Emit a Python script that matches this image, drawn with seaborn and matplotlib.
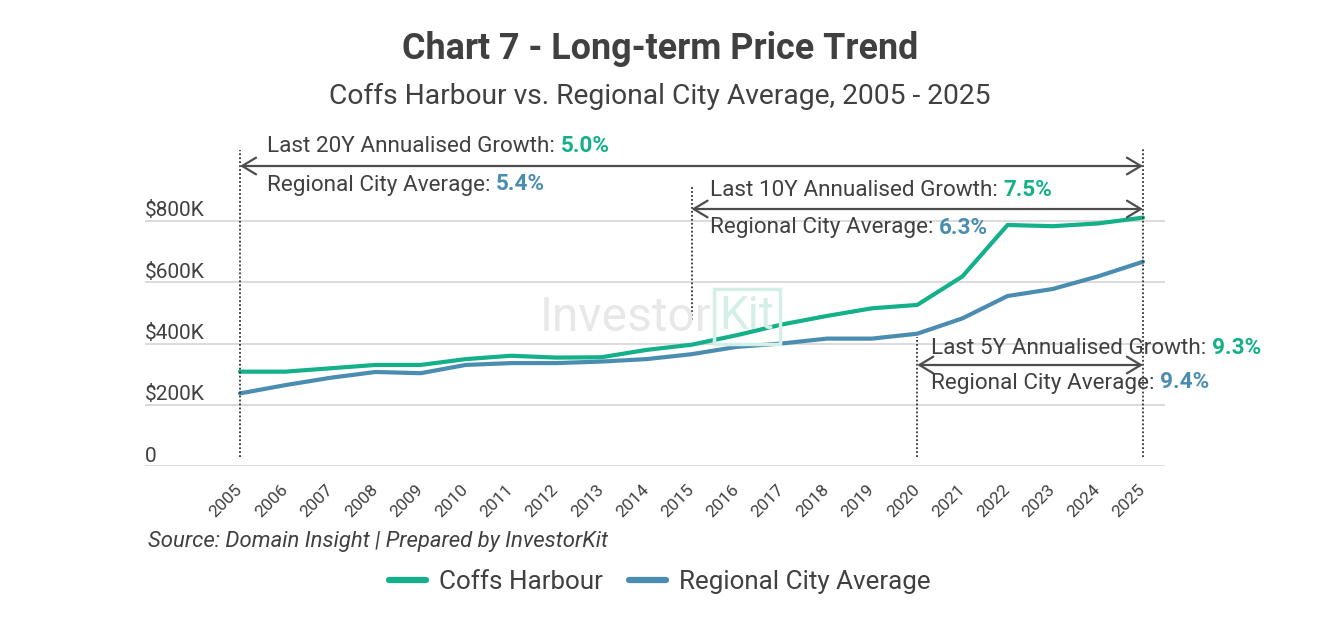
import matplotlib
matplotlib.use("Agg")
import matplotlib.pyplot as plt
import seaborn as sns
import pandas as pd
from matplotlib.lines import Line2D

# ---------------- data ----------------
years = list(range(2005, 2026))
coffs_harbour = [308, 308, 319, 330, 330, 349, 360, 354, 355, 379, 396,
                 427, 462, 490, 515, 526, 619, 787, 783, 792, 811]      # $K
regional_avg = [237, 264, 288, 307, 303, 330, 336, 336, 341, 349, 365,
                389, 400, 416, 416, 432, 482, 555, 578, 619, 667]       # $K
series_names = ["Coffs Harbour", "Regional City Average"]
y_ticks = [0, 200000, 400000, 600000, 800000]
y_tick_labels = ["0", "$200K", "$400K", "$600K", "$800K"]
period_labels = ["Last 20Y", "Last 10Y", "Last 5Y"]
period_start = [2005, 2015, 2020]
period_end = 2025
growth_coffs = ["5.0%", "7.5%", "9.3%"]
growth_regional = ["5.4%", "6.3%", "9.4%"]

title = "Chart 7 - Long-term Price Trend"
subtitle = "Coffs Harbour vs. Regional City Average, 2005 - 2025"
source = "Source: Domain Insight | Prepared by InvestorKit"

GREEN = "#13b089"
BLUE = "#4b8db0"
TXT = "#404040"

df = pd.DataFrame({
    "Year": years * 2,
    "Price": [v * 1000 for v in coffs_harbour] + [v * 1000 for v in regional_avg],
    "Series": [series_names[0]] * len(years) + [series_names[1]] * len(years),
})

sns.set_theme(style="white")
plt.rcParams["font.family"] = ["Roboto", "DejaVu Sans"]

W, H = 1320, 640
fig = plt.figure(figsize=(W / 100, H / 100), dpi=100)

# layout in pixels
AX_L, AX_R, AX_B, AX_T = 145, 1165, 466, 130
PX_PER_K = 0.30625
X0_PIX, PX_PER_YEAR = 240, 45.15

ax = fig.add_axes([AX_L / W, 1 - AX_B / H, (AX_R - AX_L) / W, (AX_B - AX_T) / H])


def ydat(ypix):
    return (AX_B - ypix) / PX_PER_K * 1000


def xdat(xpix):
    return years[0] + (xpix - X0_PIX) / PX_PER_YEAR


ax.set_xlim(xdat(AX_L), xdat(AX_R))
ax.set_ylim(0, ydat(AX_T))

sns.lineplot(data=df, x="Year", y="Price", hue="Series",
             palette=[GREEN, BLUE], linewidth=3.0, ax=ax, legend=False,
             zorder=3)

# grid / axes
ax.set_yticks(y_ticks)
ax.yaxis.grid(True, color="#d9d9d9", linewidth=1.3)
ax.xaxis.grid(False)
for s in ax.spines.values():
    s.set_visible(False)
ax.tick_params(axis="y", length=0, labelleft=False)
ax.set_xlabel("")
ax.set_ylabel("")
ax.set_xticks(years)
ax.set_xticklabels([str(y) for y in years], rotation=45, ha="right",
                   va="center", rotation_mode="anchor", fontsize=12.5,
                   color=TXT)
ax.tick_params(axis="x", length=0, pad=15)

for v, lab in zip(y_ticks, y_tick_labels):
    ax.text(0, v + 10 / PX_PER_K * 1000, lab, transform=ax.get_yaxis_transform(),
            ha="left", va="center", fontsize=15, color=TXT)

# watermark
fig.text(540 / W, 1 - 318 / H, "Investor", fontsize=34.5, color="#e8e8e8",
         ha="left", va="center", zorder=0)
fig.text(747 / W, 1 - 316 / H, "Kit", fontsize=33, color="#d4efe8",
         ha="center", va="center", zorder=0,
         bbox=dict(boxstyle="square,pad=0.12", fc="none", ec="#d4efe8", lw=2.5))

# annotations
dot_style = dict(color="#333333", linewidth=1.3, linestyle=(0, (1, 1.2)), zorder=4)
dot_ranges = {2005: (150, 457), 2015: (186, 320), 2020: (337, 457)}
for yr, (t, b) in dot_ranges.items():
    ax.plot([yr, yr], [ydat(b), ydat(t)], **dot_style, clip_on=False)
ax.plot([period_end, period_end], [ydat(457), ydat(148)], **dot_style, clip_on=False)

arrow_y = [166, 209, 365]
text_y1 = [147, 191, 348]
text_y2 = [185, 228, 383]
text_dx = [27, 18, 14]
FS = 16.2
for i in range(3):
    ax.annotate("", xy=(period_start[i], ydat(arrow_y[i])),
                xytext=(period_end, ydat(arrow_y[i])),
                arrowprops=dict(arrowstyle="<->,head_length=0.5,head_width=0.3",
                                color="#4d4d4d", lw=1.6, shrinkA=0, shrinkB=0,
                                mutation_scale=20),
                annotation_clip=False, zorder=4)
    x_txt = period_start[i] + text_dx[i] / PX_PER_YEAR
    t1 = ax.text(x_txt, ydat(text_y1[i]), f"{period_labels[i]} Annualised Growth: ",
                 fontsize=FS, color=TXT, ha="left", va="center", clip_on=False, zorder=5)
    ax.annotate(growth_coffs[i], xy=(1, 0), xycoords=t1, va="bottom", ha="left",
                fontsize=FS, color=GREEN, weight="bold", zorder=5)
    t2 = ax.text(x_txt, ydat(text_y2[i]), "Regional City Average: ",
                 fontsize=FS, color=TXT, ha="left", va="center", clip_on=False, zorder=5)
    ax.annotate(growth_regional[i], xy=(1, 0), xycoords=t2, va="bottom", ha="left",
                fontsize=FS, color=BLUE, weight="bold", zorder=5)

# titles
fig.text(0.5, 1 - 49 / H, title, ha="center", va="center", fontsize=25.8,
         weight="bold", color=TXT)
fig.text(0.5, 1 - 96 / H, subtitle, ha="center", va="center", fontsize=20.3,
         color=TXT)
fig.text(148 / W, 1 - 542 / H, source, ha="left", va="center", fontsize=15.9,
         style="italic", color=TXT)

handles = [Line2D([], [], color=GREEN, lw=4.5), Line2D([], [], color=BLUE, lw=4.5)]
fig.legend(handles, series_names, loc="center", bbox_to_anchor=(0.5, 1 - 582 / H),
           ncol=2, frameon=False, fontsize=18.7, handlelength=1.42,
           handletextpad=0.5, columnspacing=1.0, labelcolor=TXT)

fig.savefig("out.png", dpi=100, facecolor="white")
